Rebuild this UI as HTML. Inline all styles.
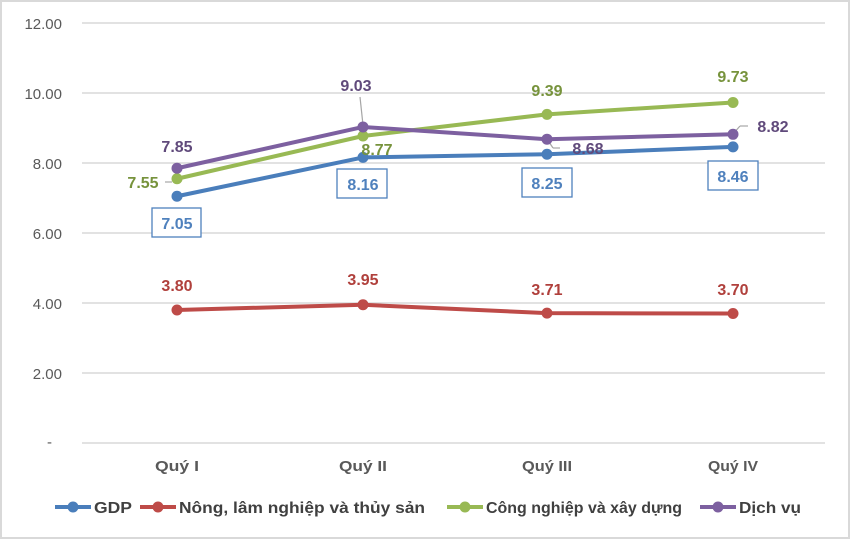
<!DOCTYPE html>
<html><head><meta charset="utf-8"><style>
body{margin:0;background:#fff}
svg{display:block}
text{font-family:"Liberation Sans",sans-serif}
</style></head><body>
<svg width="850" height="539" viewBox="0 0 850 539">
<rect x="1" y="1" width="848" height="537" fill="#fff" stroke="#d9d9d9" stroke-width="2"/>
<g stroke="#d9d9d9" stroke-width="1.5">
<line x1="82" x2="825" y1="23" y2="23"/><line x1="82" x2="825" y1="93" y2="93"/>
<line x1="82" x2="825" y1="163" y2="163"/><line x1="82" x2="825" y1="233" y2="233"/>
<line x1="82" x2="825" y1="303" y2="303"/><line x1="82" x2="825" y1="373" y2="373"/>
<line x1="82" x2="825" y1="443" y2="443"/>
</g>
<g font-size="15" fill="#595959" text-anchor="end">
<text x="62" y="29">12.00</text><text x="62" y="99">10.00</text><text x="62" y="169">8.00</text>
<text x="62" y="239">6.00</text><text x="62" y="309">4.00</text><text x="62" y="379">2.00</text>
<text x="52" y="447">-</text>
</g>
<g font-size="15" font-weight="bold" fill="#595959" text-anchor="middle">
<text x="177" y="471" textLength="44" lengthAdjust="spacingAndGlyphs">Quý I</text><text x="363" y="471" textLength="48" lengthAdjust="spacingAndGlyphs">Quý II</text><text x="547" y="471" textLength="50" lengthAdjust="spacingAndGlyphs">Quý III</text><text x="733" y="471" textLength="50" lengthAdjust="spacingAndGlyphs">Quý IV</text>
</g>
<g stroke="#a6a6a6" stroke-width="1.2">
<line x1="360" y1="97" x2="363" y2="125"/>
<line x1="547" y1="139" x2="553" y2="148"/><line x1="553" y1="148" x2="560" y2="148"/>
<line x1="733" y1="134" x2="740" y2="126"/><line x1="740" y1="126" x2="748" y2="126"/>
<line x1="165" y1="182" x2="172" y2="182"/>
</g>
<g fill="none" stroke-width="4" stroke-linejoin="round">
<polyline stroke="#be4b48" points="177,310 363,304.75 547,313.15 733,313.5"/>
<polyline stroke="#4a7ebb" points="177,196.25 363,157.4 547,154.25 733,146.9"/>
<polyline stroke="#98b954" points="177,178.75 363,136 547,114.35 733,102.45"/>
<polyline stroke="#7d60a0" points="177,168.25 363,126.95 547,139.2 733,134.3"/>
</g>
<g fill="#be4b48"><circle cx="177" cy="310" r="5.5"/><circle cx="363" cy="304.75" r="5.5"/><circle cx="547" cy="313.15" r="5.5"/><circle cx="733" cy="313.5" r="5.5"/></g>
<g fill="#4a7ebb"><circle cx="177" cy="196.25" r="5.5"/><circle cx="363" cy="157.4" r="5.5"/><circle cx="547" cy="154.25" r="5.5"/><circle cx="733" cy="146.9" r="5.5"/></g>
<g fill="#98b954"><circle cx="177" cy="178.75" r="5.5"/><circle cx="363" cy="136" r="5.5"/><circle cx="547" cy="114.35" r="5.5"/><circle cx="733" cy="102.45" r="5.5"/></g>
<g fill="#7d60a0"><circle cx="177" cy="168.25" r="5.5"/><circle cx="363" cy="126.95" r="5.5"/><circle cx="547" cy="139.2" r="5.5"/><circle cx="733" cy="134.3" r="5.5"/></g>
<g font-size="16" font-weight="bold" text-anchor="middle">
<g fill="#604a7b"><text x="177" y="152">7.85</text><text x="356" y="91">9.03</text><text x="588" y="154">8.68</text><text x="773" y="132">8.82</text></g>
<g fill="#77933c"><text x="143" y="188">7.55</text><text x="377" y="155">8.77</text><text x="547" y="96">9.39</text><text x="733" y="82">9.73</text></g>
<g fill="#b0403c"><text x="177" y="291">3.80</text><text x="363" y="285">3.95</text><text x="547" y="295">3.71</text><text x="733" y="295">3.70</text></g>
<g fill="#4f81bd">
<rect x="152" y="208" width="49" height="29" fill="#fff" stroke="#4f81bd" stroke-width="1.3"/><text x="177" y="229">7.05</text>
<rect x="337" y="169" width="50" height="29" fill="#fff" stroke="#4f81bd" stroke-width="1.3"/><text x="363" y="190">8.16</text>
<rect x="522" y="168" width="50" height="29" fill="#fff" stroke="#4f81bd" stroke-width="1.3"/><text x="547" y="189">8.25</text>
<rect x="708" y="161" width="50" height="29" fill="#fff" stroke="#4f81bd" stroke-width="1.3"/><text x="733" y="182">8.46</text>
</g>
</g>
<g font-size="16" font-weight="bold" fill="#404040">
<line x1="55" x2="91" y1="507" y2="507" stroke="#4a7ebb" stroke-width="4"/><circle cx="73" cy="507" r="5.5" fill="#4a7ebb"/>
<text x="94" y="513" textLength="38" lengthAdjust="spacingAndGlyphs">GDP</text>
<line x1="140" x2="176" y1="507" y2="507" stroke="#be4b48" stroke-width="4"/><circle cx="158" cy="507" r="5.5" fill="#be4b48"/>
<text x="179" y="513" textLength="246" lengthAdjust="spacingAndGlyphs">Nông, lâm nghiệp và thủy sản</text>
<line x1="447" x2="483" y1="507" y2="507" stroke="#98b954" stroke-width="4"/><circle cx="465" cy="507" r="5.5" fill="#98b954"/>
<text x="486" y="513" textLength="196" lengthAdjust="spacingAndGlyphs">Công nghiệp và xây dựng</text>
<line x1="700" x2="736" y1="507" y2="507" stroke="#7d60a0" stroke-width="4"/><circle cx="718" cy="507" r="5.5" fill="#7d60a0"/>
<text x="739" y="513" textLength="62" lengthAdjust="spacingAndGlyphs">Dịch vụ</text>
</g>
</svg>
</body></html>
